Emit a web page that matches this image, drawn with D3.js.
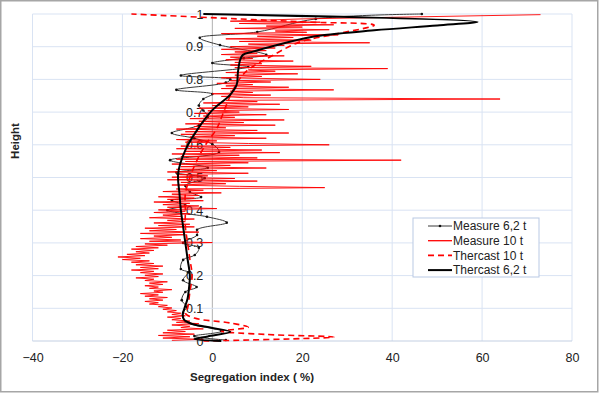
<!DOCTYPE html>
<html>
<head>
<meta charset="utf-8">
<script src="https://cdn.jsdelivr.net/npm/d3@7"></script>
<style>
  body { margin: 0; background: #fff; }
  text { font-family: "Liberation Sans", Arial, sans-serif; }
</style>
</head>
<body>
<svg width="600" height="393"></svg>
<script>
// axis ticks
const xTicks = [-40, -20, 0, 20, 40, 60, 80];
const yTicks = [0, 0.1, 0.2, 0.3, 0.4, 0.5, 0.6, 0.7, 0.8, 0.9, 1];
const yTickLabels = ['0', '0.1', '0.2', '0.3', '0.4', '0.5', '0.6', '0.7', '0.8', '0.9', '1'];
const seriesNames = ['Measure 6,2 t', 'Measure 10 t', 'Thercast 10 t', 'Thercast 6,2 t'];

// [height, segregation index %]
const measure62 = [
  [1.000, 46.6], [0.985, 23], [0.945, 10], [0.927, -2.8], [0.905, 1.7], [0.875, 12], [0.865, 7],
  [0.85, 0], [0.838, 8], [0.812, -7], [0.8, 4], [0.79, 3], [0.768, -8], [0.755, 0], [0.74, -2],
  [0.72, -3], [0.705, -2], [0.685, -1], [0.66, -3], [0.636, -9], [0.62, -4], [0.602, 0], [0.578, 1.5],
  [0.553, -9.4], [0.53, -1], [0.515, -8], [0.498, -1.7], [0.475, -6], [0.456, -5], [0.44, -2.5],
  [0.43, -9], [0.415, -6], [0.40, -10], [0.38, -1.2], [0.362, 3.2], [0.34, -3.4], [0.324, -3.4],
  [0.30, -6.5], [0.285, -3], [0.263, -3.9], [0.248, -6.5], [0.22, -7], [0.21, -5.4], [0.186, -6.5],
  [0.165, -3.5], [0.15, -6], [0.125, -6.8], [0.104, -5.7], [0.086, -6.5], [0.06, -6], [0.03, 2],
  [0.015, -4], [0.003, 3]
];

const measure10 = [
  [0.998, 73], [0.985, 20], [0.978, 4], [0.975, 24], [0.971, 6], [0.967, 27], [0.963, 12], [0.96, 20],
  [0.956, 5], [0.952, 26], [0.948, 14], [0.944, 21], [0.94, 2], [0.936, 28], [0.932, 10], [0.928, 18],
  [0.924, 3], [0.92, 22], [0.916, 6], [0.912, 35], [0.908, 8], [0.904, 16], [0.9, 4], [0.896, 14],
  [0.892, 2], [0.888, 12], [0.884, 5], [0.88, 10], [0.876, 2], [0.872, 16], [0.868, 4], [0.864, 9],
  [0.86, 3], [0.856, 18], [0.852, 5], [0.848, 11], [0.844, 4], [0.84, 22], [0.836, 5], [0.833, 39],
  [0.829, 8], [0.825, 14], [0.821, 3], [0.817, 19], [0.813, 5], [0.809, 11], [0.805, 2], [0.8, 24],
  [0.796, 4], [0.792, 13], [0.788, 1], [0.784, 9], [0.78, 3], [0.776, 17], [0.772, 2], [0.768, 27],
  [0.764, 4], [0.76, 9], [0.756, 0], [0.752, 13], [0.748, 2], [0.744, 7], [0.74, 64], [0.736, 3],
  [0.732, 10], [0.728, -2], [0.724, 15], [0.72, 0], [0.716, 8], [0.712, -3], [0.708, 17], [0.704, -1],
  [0.7, 6], [0.696, -4], [0.692, 12], [0.688, -2], [0.684, 5], [0.68, -5], [0.676, 16], [0.672, -3],
  [0.668, 7], [0.664, -6], [0.66, 14], [0.656, -4], [0.652, 3], [0.648, -8], [0.644, 10], [0.64, -6],
  [0.636, 17], [0.632, -7], [0.628, 5], [0.624, -5], [0.62, 12], [0.616, -8], [0.612, 1], [0.608, -6],
  [0.604, 8], [0.6, 26], [0.596, -7], [0.592, 4], [0.588, -8], [0.584, 11], [0.58, -6], [0.576, 15],
  [0.572, -9], [0.568, 6], [0.564, -7], [0.56, 10], [0.556, -8], [0.553, 42], [0.549, -6], [0.545, 8],
  [0.541, -9], [0.537, 4], [0.533, -7], [0.529, 12], [0.525, -8], [0.521, 1], [0.517, -10], [0.513, 8],
  [0.509, -8], [0.505, -1], [0.501, -9], [0.497, 5], [0.493, -10], [0.489, 10], [0.485, -7], [0.481, 3],
  [0.477, -9], [0.473, 6], [0.469, 25], [0.465, -8], [0.461, -2], [0.457, -11], [0.453, 2], [0.449, -9],
  [0.445, -3], [0.441, -12], [0.437, -4], [0.433, -10], [0.429, -2], [0.425, -13], [0.421, -5], [0.417, -11],
  [0.413, -3], [0.409, -10], [0.405, 1], [0.401, -12], [0.397, -6], [0.393, -13], [0.389, -5], [0.385, -11],
  [0.381, -7], [0.377, -14], [0.373, -4], [0.369, -10], [0.365, -6], [0.361, -13], [0.357, -5], [0.353, -12],
  [0.349, -4], [0.345, -15], [0.341, -8], [0.337, -14], [0.333, -3], [0.329, -16], [0.325, -6], [0.321, -13],
  [0.317, -9], [0.313, -16], [0.309, -7], [0.305, -14], [0.301, 0], [0.297, -15], [0.293, -10], [0.289, -17],
  [0.285, -12], [0.281, -18], [0.277, -13], [0.273, -17], [0.269, -14], [0.265, -19], [0.261, -15], [0.257, -21],
  [0.253, -16], [0.249, -20], [0.245, -14], [0.241, -18], [0.237, -13], [0.233, -17], [0.229, -11], [0.225, -16],
  [0.221, -12], [0.217, -18], [0.213, -13], [0.209, -16], [0.205, -11], [0.201, -15], [0.197, -12], [0.193, -17],
  [0.189, -13], [0.185, -15], [0.181, -10], [0.177, -14], [0.173, -11], [0.169, -15], [0.165, -12], [0.161, -14],
  [0.157, -9], [0.153, -13], [0.149, -11], [0.145, -16], [0.141, -12], [0.137, -15], [0.133, -10], [0.129, -14],
  [0.125, -11], [0.121, -15], [0.117, -12], [0.113, -14], [0.109, -10], [0.105, -12], [0.101, -9], [0.097, -11],
  [0.093, -8], [0.089, -10], [0.085, -7], [0.081, -9], [0.077, -6], [0.073, -10], [0.069, -7], [0.065, -9],
  [0.061, -5], [0.057, -8], [0.053, -3], [0.049, -9], [0.045, -5], [0.041, -7], [0.037, -2], [0.033, -10],
  [0.029, -6], [0.025, -11], [0.021, -4], [0.017, -12], [0.013, -5], [0.009, -11], [0.005, -2], [0.002, -9]
];

const thercast10 = [
  [0.0, -2], [0.012, 27], [0.02, 12], [0.03, 2], [0.042, 8], [0.055, 4], [0.07, -4], [0.085, -6],
  [0.1, -5.5], [0.15, -5], [0.2, -4.5], [0.25, -5], [0.3, -5.5], [0.35, -6], [0.4, -6], [0.45, -6],
  [0.5, -5], [0.55, -3.5], [0.6, -1.5], [0.65, 1], [0.7, 2.5], [0.75, 4], [0.8, 6], [0.83, 8],
  [0.87, 13], [0.914, 19.4], [0.94, 28], [0.966, 36], [0.975, 22], [0.983, 9], [1.0, -18]
];

const thercast62 = [
  [0.0, 2], [0.006, -4], [0.014, -1], [0.028, 4], [0.04, 0], [0.052, -4.5], [0.065, -6.3], [0.08, -6.6],
  [0.1, -6.2], [0.13, -5.5], [0.16, -5.2], [0.2, -5], [0.25, -5.5], [0.3, -6], [0.35, -6.5], [0.4, -7],
  [0.45, -7.3], [0.513, -7.6], [0.584, -6], [0.645, -3.4], [0.706, 0], [0.752, 3.9], [0.783, 5.4],
  [0.823, 5.7], [0.86, 6.2], [0.875, 6.8], [0.885, 9], [0.9, 13], [0.93, 22], [0.95, 36], [0.965, 50],
  [0.976, 59], [1.0, -2]
];

const svg = d3.select('svg');

svg.append('rect')
  .attr('x', 0.75).attr('y', 0.75).attr('width', 597).attr('height', 391)
  .attr('fill', 'white').attr('stroke', '#a6a6a6').attr('stroke-width', 1.5);

const x = d3.scaleLinear().domain([-40, 80]).range([32.5, 572]);
const y = d3.scaleLinear().domain([0, 1]).range([341, 14]);

// grid
const grid = svg.append('g');
grid.selectAll('line.v').data(xTicks).enter().append('line')
  .attr('x1', d => x(d)).attr('x2', d => x(d))
  .attr('y1', y(0)).attr('y2', y(1))
  .attr('stroke', d => d === 0 ? '#b0b0b0' : '#d9e3f3').attr('stroke-width', 1);
grid.selectAll('line.h').data(yTicks).enter().append('line')
  .attr('x1', x(-40)).attr('x2', x(80))
  .attr('y1', d => y(d)).attr('y2', d => y(d))
  .attr('stroke', d => d === 0 ? '#c3cfe2' : '#d9e3f3').attr('stroke-width', 1);

// x axis labels
const xAxis = d3.axisBottom(x).tickValues(xTicks).tickSize(0).tickPadding(12);
svg.append('g').attr('transform', `translate(0,${y(0)})`).call(xAxis)
  .call(g => g.select('.domain').remove())
  .selectAll('text').attr('font-size', 12.5).attr('fill', '#222')
  .attr('font-family', '"Liberation Sans", Arial, sans-serif');

// y axis labels sit beside the vertical axis at x = 0
const yAxis = d3.axisLeft(y).tickValues(yTicks).tickSize(0).tickPadding(9)
  .tickFormat((d, i) => yTickLabels[i]);
svg.append('g').attr('transform', `translate(${x(0)},0)`).call(yAxis)
  .call(g => g.select('.domain').remove())
  .selectAll('text').attr('font-size', 12.5).attr('fill', '#222')
  .attr('font-family', '"Liberation Sans", Arial, sans-serif');

// axis titles
svg.append('text').attr('x', 252).attr('y', 381).attr('text-anchor', 'middle')
  .attr('font-size', 11.5).attr('font-weight', 'bold').attr('fill', '#222')
  .text('Segregation  index ( %)');
svg.append('text').attr('transform', 'translate(19,141) rotate(-90)').attr('text-anchor', 'middle')
  .attr('font-size', 11.5).attr('font-weight', 'bold').attr('fill', '#222')
  .text('Height');

const line = d3.line().x(d => x(d[1])).y(d => y(d[0]));
const smooth = d3.line().x(d => x(d[1])).y(d => y(d[0])).curve(d3.curveCatmullRom.alpha(0.5));

const plot = svg.append('g');

plot.append('path').attr('d', smooth(measure62))
  .attr('fill', 'none').attr('stroke', '#3a3a3a').attr('stroke-width', 1);
plot.selectAll('circle.m62').data(measure62).enter().append('circle')
  .attr('cx', d => x(d[1])).attr('cy', d => y(d[0])).attr('r', 1.3).attr('fill', '#111');

plot.append('path').attr('d', line(measure10))
  .attr('fill', 'none').attr('stroke', '#ff0000').attr('stroke-width', 0.9);

plot.append('path').attr('d', smooth(thercast10))
  .attr('fill', 'none').attr('stroke', '#ff0000').attr('stroke-width', 1.6)
  .attr('stroke-dasharray', '6,4');

plot.append('path').attr('d', smooth(thercast62))
  .attr('fill', 'none').attr('stroke', '#000').attr('stroke-width', 2);

// legend
const lg = svg.append('g').attr('transform', 'translate(413,218)');
lg.append('rect').attr('width', 126).attr('height', 59)
  .attr('fill', 'white').attr('stroke', '#b9c9e4').attr('stroke-width', 1);
const styles = [
  { stroke: '#3a3a3a', width: 1, dash: null, dot: true },
  { stroke: '#ff0000', width: 1.3, dash: null, dot: false },
  { stroke: '#ff0000', width: 1.6, dash: '6,4', dot: false },
  { stroke: '#000', width: 2, dash: null, dot: false }
];
seriesNames.forEach((name, i) => {
  const cy = 8 + i * 14.7;
  const s = styles[i];
  lg.append('line').attr('x1', 15).attr('x2', 39).attr('y1', cy).attr('y2', cy)
    .attr('stroke', s.stroke).attr('stroke-width', s.width)
    .attr('stroke-dasharray', s.dash);
  if (s.dot) lg.append('circle').attr('cx', 27).attr('cy', cy).attr('r', 1.3).attr('fill', '#111');
  lg.append('text').attr('x', 40).attr('y', cy).attr('dy', '0.35em')
    .attr('font-size', 12).attr('fill', '#222').text(name);
});
</script>
</body>
</html>
